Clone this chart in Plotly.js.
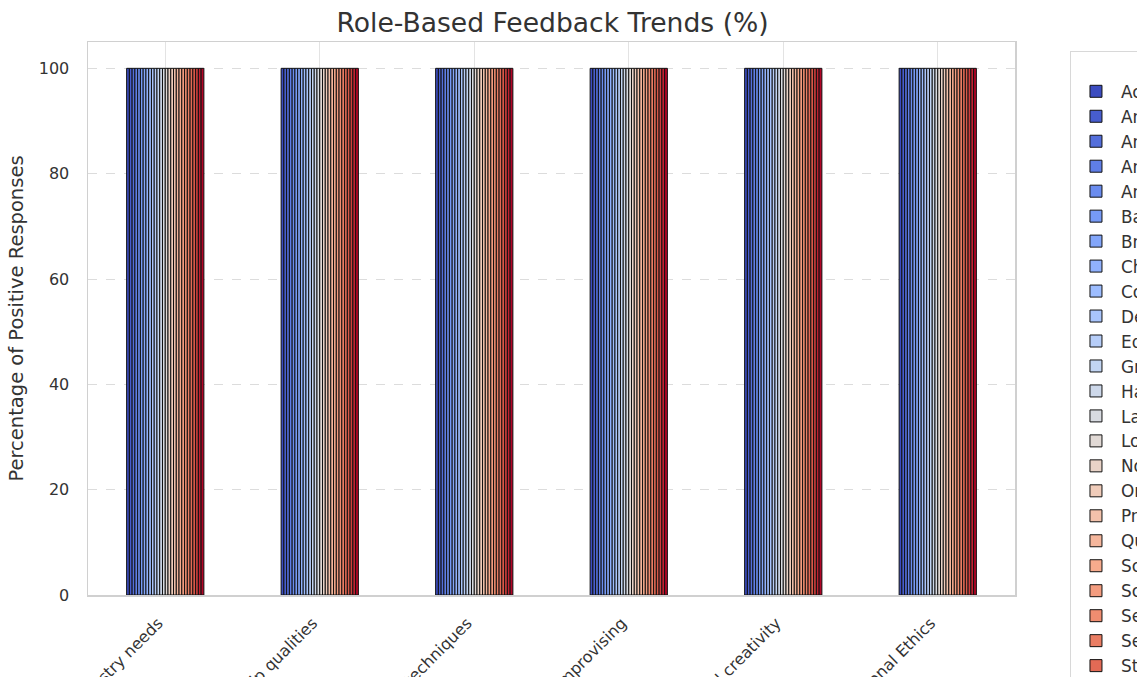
<!DOCTYPE html>
<html>
<head>
<meta charset="utf-8">
<script src="https://cdn.plot.ly/plotly-3.0.1.min.js"></script>
<style>html,body{margin:0;padding:0;background:#fff;overflow:hidden}#chart{width:1137px;height:677px}</style>
</head>
<body>
<div id="chart"></div>
<script>
// ---- data ----
const categories = [
  "Understanding of industry needs",
  "Leadership qualities",
  "Acting techniques",
  "Improvising",
  "Originality and creativity",
  "Professional Ethics"
];
const roles = [
  "Actor", "Animator", "Architect", "Art Director", "Artist",
  "Ballet Dancer", "Broadcaster", "Choreographer", "Composer", "Designer",
  "Editor", "Graphic Designer", "Hairdresser", "Landscape Architect", "Location Manager",
  "Novelist", "Orchestra Musician", "Producer", "Quantity Surveyor", "Scenographer",
  "Sculptor", "Session Musician", "Set Designer", "Stage Manager", "Stylist",
  "Teacher", "Technician", "Writer"
];
// percentage of positive responses, one row per role (same order as categories)
const values = [
  [100,100,100,100,100,100],[100,100,100,100,100,100],[100,100,100,100,100,100],
  [100,100,100,100,100,100],[100,100,100,100,100,100],[100,100,100,100,100,100],
  [100,100,100,100,100,100],[100,100,100,100,100,100],[100,100,100,100,100,100],
  [100,100,100,100,100,100],[100,100,100,100,100,100],[100,100,100,100,100,100],
  [100,100,100,100,100,100],[100,100,100,100,100,100],[100,100,100,100,100,100],
  [100,100,100,100,100,100],[100,100,100,100,100,100],[100,100,100,100,100,100],
  [100,100,100,100,100,100],[100,100,100,100,100,100],[100,100,100,100,100,100],
  [100,100,100,100,100,100],[100,100,100,100,100,100],[100,100,100,100,100,100],
  [100,100,100,100,100,100],[100,100,100,100,100,100],[100,100,100,100,100,100],
  [100,100,100,100,100,100]
];
const yTicks = [0, 20, 40, 60, 80, 100];

// ---- coolwarm colormap (approximate anchors) ----
const cwStops = [
  [0.0,[59,76,192]],[0.1,[91,122,229]],[0.2,[123,159,249]],[0.3,[158,190,255]],
  [0.4,[192,212,245]],[0.5,[221,220,220]],[0.6,[242,203,183]],[0.7,[247,172,142]],
  [0.8,[238,132,104]],[0.9,[214,82,68]],[1.0,[180,4,38]]
];
function coolwarm(t){
  for(let i=1;i<cwStops.length;i++){
    if(t<=cwStops[i][0]){
      const [t0,c0]=cwStops[i-1],[t1,c1]=cwStops[i];
      const f=(t-t0)/(t1-t0);
      const c=c0.map((v,k)=>Math.round(v+(c1[k]-v)*f));
      return `rgb(${c[0]},${c[1]},${c[2]})`;
    }
  }
  return 'rgb(180,4,38)';
}

const n = roles.length;
const traces = roles.map((r,i)=>({
  type:'bar',
  name:r,
  x:categories,
  y:values[i],
  marker:{color:coolwarm(n>1?i/(n-1):0), line:{color:'#111', width:1}},
  hoverinfo:'name+y'
}));

const font = "DejaVu Sans, sans-serif";
const layout = {
  width:1137, height:677,
  paper_bgcolor:'#fff', plot_bgcolor:'#fff',
  font:{family:font, color:'#333', size:16},
  title:{text:'Role-Based Feedback Trends (%)', font:{family:font,size:26.6,color:'#333'}, x:0.486, xanchor:'center', y:0.967, yanchor:'middle'},
  margin:{l:88, r:122, t:42, b:82, autoexpand:false},
  barmode:'group', bargap:0.5, bargroupgap:0,
  xaxis:{
    type:'category', range:[-0.5,5.5],
    tickangle:-45, tickfont:{size:16,color:'#333'},
    showgrid:true, gridcolor:'#e3e3e3', gridwidth:1,
    showline:true, mirror:true, linecolor:'#d0d0d0', linewidth:1.5,
    ticks:'', ticklabelstandoff:11, ticklabelshift:-7, automargin:false
  },
  yaxis:{
    range:[0,105], tickvals:yTicks, ticktext:yTicks.map(String),
    tickfont:{size:16,color:'#333'},
    showgrid:true, gridcolor:'#dcdcdc', griddash:'dash', gridwidth:1,
    zeroline:false,
    showline:true, mirror:true, linecolor:'#d0d0d0', linewidth:1.5,
    ticks:'', ticklabelstandoff:14, automargin:false,
    title:{text:'Percentage of Positive Responses', font:{size:19.5,color:'#333'}, standoff:10}
  },
  legend:{
    x:1.0593, xanchor:'left', y:0.984, yanchor:'top',
    bgcolor:'#fff', bordercolor:'#d8d8d8', borderwidth:1,
    font:{size:16.9,color:'#333'},
    title:{text:'Role', side:'top center', font:{size:16.9}},
    itemclick:false, traceorder:'normal', maxheight:3000, itemwidth:40
  },
  showlegend:true
};
Plotly.newPlot('chart', traces, layout, {displayModeBar:false, staticPlot:true});
</script>
</body>
</html>
